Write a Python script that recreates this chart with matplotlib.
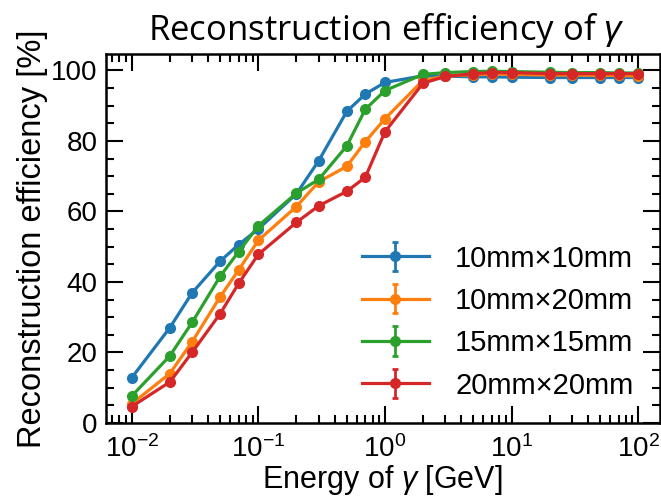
"""
Reconstruction efficiency of gamma vs. energy for four cell sizes.
"""
import matplotlib
matplotlib.use('Agg')
import matplotlib.pyplot as plt
from matplotlib.ticker import MultipleLocator

# energies in GeV
energy = [0.01, 0.02, 0.03, 0.05, 0.07, 0.1, 0.2, 0.3, 0.5, 0.7, 1,
          2, 3, 5, 7, 10, 20, 30, 50, 70, 100]

labels = ['10mm×10mm', '10mm×20mm', '15mm×15mm', '20mm×20mm']

eff_10x10 = [12.8, 27.0, 36.9, 45.9, 50.6, 55.0, 65.0, 74.4, 88.4, 93.3, 96.6,
             98.5, 98.4, 98.2, 98.2, 98.1, 98.0, 98.0, 98.0, 98.0, 98.0]
eff_10x20 = [5.4, 14.0, 23.0, 35.8, 43.4, 51.8, 61.4, 68.4, 72.8, 79.8, 86.3,
             97.2, 98.4, 98.8, 99.0, 98.9, 98.7, 98.7, 98.6, 98.6, 98.4]
eff_15x15 = [7.6, 19.0, 28.5, 41.6, 48.6, 55.9, 65.2, 69.1, 78.6, 89.0, 94.3,
             98.9, 99.4, 99.7, 99.8, 99.7, 99.5, 99.4, 99.4, 99.3, 99.3]
eff_20x20 = [4.6, 11.6, 20.0, 31.0, 39.6, 47.8, 56.9, 61.6, 65.7, 69.7, 82.6,
             96.4, 98.3, 99.1, 99.4, 99.4, 99.1, 99.1, 99.1, 99.1, 99.1]
err = 0.7

colors = ['#1f77b4', '#ff7f0e', '#2ca02c', '#d62728']


def main():
    fig = plt.figure(figsize=(6.61, 5.04), dpi=100)
    ax = fig.add_axes([0.160, 0.161, 0.838, 0.732])

    series = [eff_10x10, eff_10x20, eff_15x15, eff_20x20]
    for vals, lab, col in zip(series, labels, colors):
        ax.errorbar(energy, vals, yerr=err, color=col, label=lab,
                    marker='o', markersize=7, linewidth=2.3,
                    elinewidth=2, capsize=2.5, capthick=2)

    ax.set_xscale('log')
    ax.set_xlim(10 ** -2.205, 10 ** 2.17)
    ax.set_ylim(0, 104.7)
    ax.yaxis.set_major_locator(MultipleLocator(20))
    ax.yaxis.set_minor_locator(MultipleLocator(5))

    ax.tick_params(which='both', direction='in', top=True, right=True,
                   labelsize=20, width=1.5)
    ax.tick_params(which='major', length=12, pad=6)
    ax.tick_params(which='minor', length=6)
    ax.tick_params(axis='x', which='major', pad=9)
    for sp in ax.spines.values():
        sp.set_linewidth(1.8)

    ax.set_xlabel(r'Energy of $\gamma$ [GeV]', fontsize=22, labelpad=0)
    ax.set_ylabel('Reconstruction efficiency [%]', fontsize=23.5,
                  labelpad=2)

    ax.legend(loc='lower right', frameon=False, fontsize=21,
              handlelength=2.3, labelspacing=0.49, handletextpad=0.9,
              bbox_to_anchor=(1.0, -0.008))

    fig.text(0.585, 0.94, r'Reconstruction efficiency of $\gamma$',
             fontsize=25, family='Open Sans', ha='center', va='center')

    plt.savefig('out.png', dpi=100)


if __name__ == '__main__':
    plt.rcParams['font.family'] = ['Liberation Sans', 'DejaVu Sans']
    plt.rcParams['mathtext.fontset'] = 'custom'
    plt.rcParams['mathtext.it'] = 'Liberation Sans:italic'
    main()
